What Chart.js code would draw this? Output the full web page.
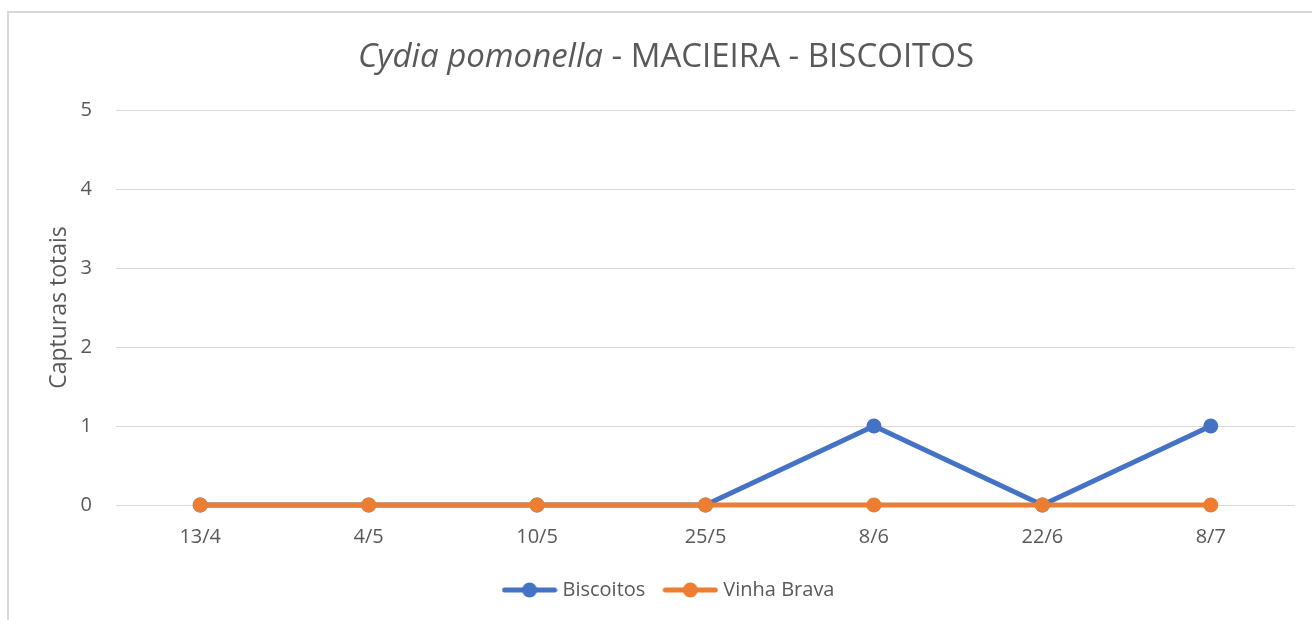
<!DOCTYPE html>
<html>
<head>
<meta charset="utf-8">
<script src="https://cdn.jsdelivr.net/npm/chart.js@4"></script>
<style>
  body { margin: 0; background: #fff; }
  #frame { position: absolute; left: 7px; top: 11px; width: 1400px; height: 700px; border: 2px solid #d9d9d9; }
  #wrap { position: absolute; left: 0; top: 0; width: 1312px; height: 620px; }
</style>
</head>
<body>
<div id="frame"></div>
<div id="wrap"><canvas id="chart" width="1312" height="620"></canvas></div>
<script>
// data
const dates = ['13/4', '4/5', '10/5', '25/5', '8/6', '22/6', '8/7'];
const biscoitos = [0, 0, 0, 0, 1, 0, 1];
const vinhaBrava = [0, 0, 0, 0, 0, 0, 0];
const yTicks = [0, 1, 2, 3, 4, 5];

const FONT = "'Open Sans', sans-serif";
const TEXT = '#595959';
const BLUE = '#4472C4';
const ORANGE = '#ED7D31';

// legend marker: short line with a dot in the middle
function makeMarker(color) {
    const c = document.createElement('canvas');
    c.width = 56;
    c.height = 16;
    const g = c.getContext('2d');
    g.strokeStyle = color;
    g.lineWidth = 5;
    g.lineCap = 'round';
    g.beginPath();
    g.moveTo(3, 8);
    g.lineTo(53, 8);
    g.stroke();
    g.fillStyle = color;
    g.beginPath();
    g.arc(28, 8, 7.5, 0, Math.PI * 2);
    g.fill();
    return c;
}

const titlePlugin = {
    id: 'mixedTitle',
    afterLayout(chart) {
        // the legend sits a little right of centre in the original
        chart.legend.left += 23;
        chart.legend.right += 23;
    },
    afterDraw(chart) {
        const ctx = chart.ctx;
        const a = 'Cydia pomonella';
        const b = ' - MACIEIRA - BISCOITOS';
        ctx.save();
        ctx.fillStyle = TEXT;
        ctx.textBaseline = 'middle';
        ctx.font = "italic 33px " + FONT;
        const wa = ctx.measureText(a).width;
        ctx.font = "33px " + FONT;
        const wb = ctx.measureText(b).width;
        let x = 666 - (wa + wb) / 2;
        ctx.textAlign = 'left';
        ctx.font = "italic 33px " + FONT;
        ctx.fillText(a, x, 58);
        ctx.font = "33px " + FONT;
        ctx.fillText(b, x + wa, 58);
        ctx.restore();
    }
};

new Chart(document.getElementById('chart'), {
    type: 'line',
    data: {
        labels: dates,
        datasets: [{
            label: 'Biscoitos',
            data: biscoitos,
            borderColor: BLUE,
            backgroundColor: BLUE,
            borderWidth: 5,
            pointRadius: 7.5,
            pointHoverRadius: 7.5,
            pointBorderWidth: 0,
            tension: 0,
            clip: false,
            order: 1
        }, {
            label: 'Vinha Brava',
            data: vinhaBrava,
            borderColor: ORANGE,
            backgroundColor: ORANGE,
            borderWidth: 5,
            pointRadius: 7.5,
            pointHoverRadius: 7.5,
            pointBorderWidth: 0,
            tension: 0,
            clip: false,
            order: 0
        }]
    },
    options: {
        responsive: false,
        animation: false,
        layout: {
            padding: { left: 0, right: 17, top: 110, bottom: 10 }
        },
        plugins: {
            title: { display: false },
            tooltip: { enabled: false },
            legend: {
                position: 'bottom',
                labels: {
                    color: TEXT,
                    font: { family: FONT, size: 20 },
                    usePointStyle: true,
                    pointStyleWidth: 46,
                    boxHeight: 16,
                    padding: 22,
                    generateLabels(chart) {
                        return chart.data.datasets.map((ds, i) => ({
                            text: ds.label,
                            fillStyle: ds.borderColor,
                            strokeStyle: ds.borderColor,
                            lineWidth: 0,
                            pointStyle: makeMarker(ds.borderColor),
                            fontColor: TEXT,
                            hidden: false,
                            datasetIndex: i
                        }));
                    }
                }
            }
        },
        scales: {
            x: {
                offset: true,
                grid: { display: false, drawTicks: false },
                border: { display: false },
                ticks: {
                    color: TEXT,
                    font: { family: FONT, size: 20 },
                    padding: 20,
                    maxRotation: 0
                },
                afterFit(scale) { scale.height = 53; }
            },
            y: {
                min: yTicks[0],
                max: yTicks[yTicks.length - 1],
                afterBuildTicks(scale) {
                    scale.ticks = yTicks.map(v => ({ value: v }));
                },
                grid: { color: '#d9d9d9', lineWidth: 1, drawTicks: false },
                border: { display: false },
                ticks: {
                    color: TEXT,
                    font: { family: FONT, size: 20 },
                    padding: 24
                },
                title: {
                    display: true,
                    text: 'Capturas totais',
                    color: TEXT,
                    font: { family: FONT, size: 23 },
                    padding: { top: 46, bottom: 0 }
                },
                afterFit(scale) { scale.width = 116; }
            }
        }
    },
    plugins: [titlePlugin]
});
</script>
</body>
</html>
